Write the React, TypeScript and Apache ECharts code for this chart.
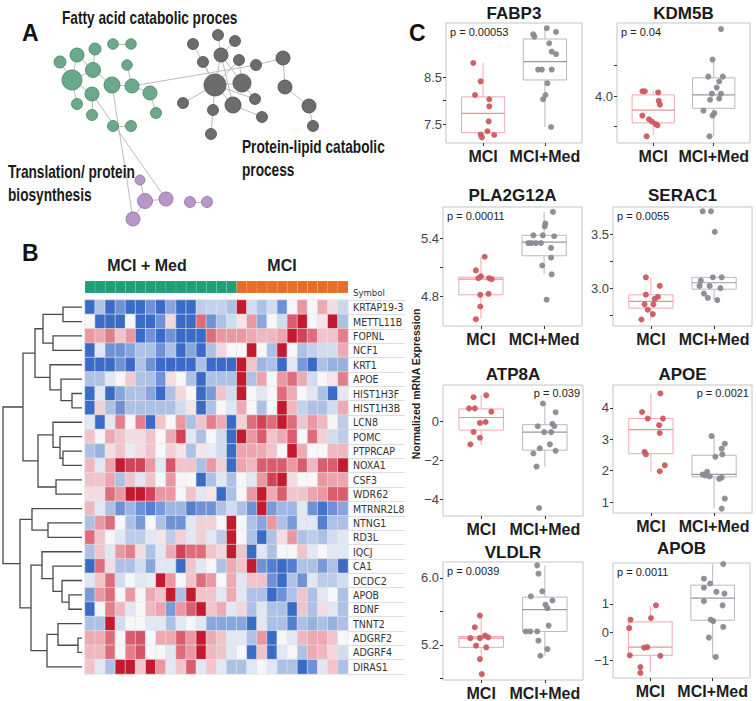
import { useEffect, useRef } from 'react';
import * as echarts from 'echarts';

const NARROW = '"Liberation Sans Narrow", "DejaVu Sans Condensed", "Liberation Sans", sans-serif';
const SANS = '"Liberation Sans", Arial, Helvetica, sans-serif';

// ---------------- Panel A: network (node x, node y, radius) ----------------
const GREEN_NODES = [
  [60, 62, 6], [77, 55, 7], [95, 49, 6], [113, 44, 5.3], [131, 44, 5.3], [72, 80, 10],
  [93, 70, 7.5], [127, 65, 5.3], [112, 85, 8], [132, 86, 7], [150, 93, 7], [92, 94, 7],
  [77, 104, 5.5], [156, 113, 5.5], [92, 115, 5.5], [113, 126, 5.5], [131, 126, 5.5],
];
const GRAY_NODES = [
  [193, 44, 5.5], [218, 35, 5.5], [235, 41, 5.5], [221, 55, 7], [203, 62, 5.5], [239, 60, 5.5],
  [256, 65, 5.5], [283, 58, 7], [215, 85, 11], [242, 83, 9], [285, 87, 7], [183, 103, 5.5],
  [213, 110, 5.5], [233, 105, 8], [255, 99, 5.5], [262, 117, 5.5], [309, 106, 7], [313, 126, 5.5],
  [211, 134, 5.5],
];
const PURPLE_NODES = [
  [140, 180, 5], [145, 201, 7.5], [166, 199, 7], [190, 202, 5.5], [207, 202, 5.5], [133, 219, 7],
];
const EDGES: [string, string][] = [
  ['g5', 'g0'], ['g5', 'g1'], ['g5', 'g6'], ['g5', 'g11'], ['g5', 'g12'], ['g1', 'g6'], ['g2', 'g6'],
  ['g6', 'g8'], ['g8', 'g9'], ['g9', 'g7'], ['g9', 'g10'], ['g10', 'g13'], ['g11', 'g14'], ['g3', 'g4'],
  ['g15', 'g16'], ['g9', 'k6'], ['g11', 'p2'], ['g8', 'p5'],
  ['k8', 'k0'], ['k8', 'k3'], ['k8', 'k4'], ['k8', 'k5'], ['k8', 'k9'], ['k8', 'k11'], ['k8', 'k12'],
  ['k8', 'k13'], ['k8', 'k14'], ['k3', 'k1'], ['k3', 'k2'], ['k3', 'k9'], ['k9', 'k5'], ['k9', 'k14'],
  ['k13', 'k15'], ['k12', 'k18'], ['k6', 'k7'], ['k7', 'k10'], ['k10', 'k16'], ['k16', 'k17'], ['k3', 'k13'],
  ['p0', 'p1'], ['p1', 'p2'], ['p3', 'p4'], ['p1', 'p5'],
];

// ---------------- Panel B: heatmap ----------------
const GENES = [
  'KRTAP19-3', 'METTL11B', 'FOPNL', 'NCF1', 'KRT1', 'APOE', 'HIST1H3F', 'HIST1H3B', 'LCN8', 'POMC',
  'PTPRCAP', 'NOXA1', 'CSF3', 'WDR62', 'MTRNR2L8', 'NTNG1', 'RD3L', 'IQCJ', 'CA1', 'DCDC2', 'APOB',
  'BDNF', 'TNNT2', 'ADGRF2', 'ADGRF4', 'DIRAS1',
];
const SAMPLES = [
  'M1', 'M2', 'M3', 'M4', 'M5', 'M6', 'M7', 'M8', 'M9', 'M10', 'M11', 'M12', 'M13', 'M14', 'M15',
  'C1', 'C2', 'C3', 'C4', 'C5', 'C6', 'C7', 'C8', 'C9', 'C10', 'C11',
];
const SAMPLE_GROUP = [0, 0, 0, 0, 0, 0, 0, 0, 0, 0, 0, 0, 0, 0, 0, 1, 1, 1, 1, 1, 1, 1, 1, 1, 1, 1];
const HEAT_ROWS = [
  [-3, -1, -3, -2, -3, -3, -2, -3, -1.5, -3, -3, -0.8, -0.7, -0.7, -1, 3, -0.5, -1, -0.5, -2, 0, 1.5, 0, 1.2, 0.4, -0.6],
  [0, -3, -3, -3, 0, -3, -3, -2, 0.5, -3, -3, 2, -2, -1, -0.5, 0.3, 1.5, -1.5, 0, -0.5, 2.2, 3, 0, 0.3, 3, -1],
  [1.5, 1.2, 1.8, 0.8, 1.5, -3, -2, -3, -2, -3, -3, -3, 2, 1.5, 1.5, 1.5, 1.2, 1, 1, 1.3, 3, 2.5, 2, 0.8, 0.8, 1.8],
  [-3, -0.3, -2, -2, -1.5, -1, -1, -2, -1, -3, -1.5, -3, -1, 0.5, 0, 0, 3, 0, -1, 3, 0, -1, -0.7, -0.5, -0.5, 1.2],
  [-3, -3, -3, -2, -3, -1, -2, -3, -3, -3, -3, -1, -3, -3, -3, 3, 0.8, -1.2, -1, -3, -0.3, -1.8, -3, -1, -1.3, -1.3],
  [-1, -1, -0.3, 0, 0.7, -1, -1, -2, 0.4, 0, -1, -3, -1, -1, -1, 3, -1, 1.3, 0, 1.5, 2, 1.2, -0.5, 0, 0.3, 1.8],
  [-3, -0.3, -3, -1.5, -1, -1, -1.5, -3, -1, 0.5, 0, -3, -1.8, 0.8, -0.5, 3, 0, -0.3, 0, 2, 1.2, 0, -0.3, -1, -3, -0.3],
  [-3, 0.6, -1, -2, -1, -1, -1, -1, -1, -0.5, 0.3, -3, -1, 0, -0.3, 1.2, 0, -1, 0, 3, 1, -0.7, -1, -1, -0.5, 1.2],
  [-0.3, -3, -0.3, 1.8, 0, 1.8, -3, 0.8, 0, 1.5, -1, 0.8, 1.8, 1.2, -3, 0.6, 2, 2.5, 2, 3, 2, 0.8, 1.5, 1, 0, -0.8],
  [0.8, 0, 1.2, 0.8, 0.4, 0.4, 0.8, 0, 1.2, 2.5, -0.3, -1, 0, -0.5, -3, 3, 1.5, 2.2, 0.8, 1.2, 2.2, 0, 2, 0.6, -0.5, -0.8],
  [-1, -1.3, 0.4, 0.8, -0.2, 0.4, 0.8, 0, 0.6, 0.3, -1, 0.3, -0.2, -0.5, -3, 1.3, 1.3, 1.2, 0.8, 0, 3, 1.2, 0, 0, 1, 1],
  [1, -0.3, 1.3, 3, 2.5, 2.5, 1.5, -0.3, 2.3, 0.8, 0.8, -1, 1.5, 0.6, -3, 1.3, 1, 2.2, 2.2, 2.2, 1.5, 2.2, 1, 2.2, 2.2, 3],
  [0.8, 0.8, 1.3, -1, 0.8, -0.3, 0.8, 0, 1.5, 0, 0, -3, -1, -0.3, -1, 0, -0.3, 1.5, 2.5, 3, 0.4, 0, 0, 1.5, 1.3, 1.3],
  [0.4, 0.4, 2, 1.5, 3, 3, 2.5, 1.5, 1.5, 0, 0.8, -0.3, 0.3, -3, -1, 0, 1.5, 3, 1.2, 2.2, 0.8, 0.8, 1.3, 1.5, 2.2, 2.2],
  [1, -0.3, -1, -2, -1.2, -2, -2.5, -1.8, -1.2, -1.2, -2.5, -2, -2, -1, -0.5, -1, -2, 3, -1.8, -1.2, -1.2, -0.3, -2, -2.8, -2, -1.5],
  [-1, 1.5, 2, 0, -1, -1.8, 0, -1, -2, -2, -0.3, 0.6, 0.6, 0, 3, 0, -1, -1.5, 1.5, -1, -1.8, -0.3, -0.3, -2.5, -1, -1],
  [2, 0.8, 0, -0.3, -0.8, -0.8, -0.3, 0.3, -0.8, 0.6, -0.3, 0.6, -0.3, -0.8, 3, 0, -1, -3, -1, 0.4, 1.5, -1, -0.8, -1, -0.5, -0.3],
  [-1, 0.8, -0.3, 1.5, 1.8, 0.4, -1, -0.3, 1.2, 2.5, 2, 2, 0.8, 0.5, 3, 0.8, -3, -0.3, -1, 0, 0, 0.8, -0.3, 0, -0.3, -0.3],
  [-3, 2, 0.4, -1, -1, -0.5, -1.5, -0.3, -0.3, -3, 0.8, -0.3, 0, -1, 1.2, 0.8, 3, -2, -2.5, -3, -2.5, -1, -1, -1.8, -1, -3],
  [-0.3, 0.8, 2, -0.5, 0, -0.3, -0.2, 3, 1.5, 0, 0.8, 2, 1.5, 0, 1.2, -0.3, 0.8, 0.8, -2, -3, -1, -2, -0.3, -0.8, -0.8, -0.5],
  [-1.8, 1.5, 2, 0, 1.5, 0, 1.2, 0.8, 3, -1, 3, 0.8, 0.8, -0.3, 1.2, -0.3, -1, -1, -3, -2, -1, 0.8, -1, -0.3, 0, -1],
  [-3, 0, 1.8, 1, -0.3, 0, 1, 1.3, -1.8, 1.5, 2.2, 3, 0.8, 1.2, -0.3, 0.5, -1, -0.3, -1, -1, -3, 0.8, -1, 0.4, -0.3, -1],
  [-1, -1, 3, -0.5, 0, 0, -0.3, -0.3, -1, -0.3, 0, -0.3, -1.5, -1.5, -1.5, -1.5, -3, -0.3, -1, -1, -2.5, -1, -1.3, -1, -1.3, -1],
  [1.2, 1.2, 2, 0, 2.2, 2.3, 0, 1.2, 1.2, 2.2, 1.5, 3, 1.2, 0.8, -0.3, -0.3, -1, 1.5, -3, 0, -0.3, 1, 1.2, 1.2, 0.8, 0],
  [1, 1, 2, 0, 1.8, 2.3, 0, 0, -0.3, 2, 1.5, 3, 1, 0.8, -0.3, 0, -3, 0.8, -3, -0.3, 0, -1, 1.2, 1, 0.5, -0.5],
  [0.8, -0.3, -1, 3, 3, 0.8, 3, 1.5, -0.3, 0.8, 2.2, -0.3, 0.8, -0.3, -1, -1, -0.3, 0, -0.3, -1, -1, -3, -2, -0.3, 0.8, -1],
];
// hierarchical clustering of rows: [left id, right id, height]; leaves 0..25, merges 26..
const MERGES = [
  [0, 1, 19], [2, 3, 29], [26, 27, 39], [6, 7, 10], [5, 29, 21], [4, 30, 32], [28, 31, 47],
  [10, 11, 19], [9, 33, 22], [8, 34, 29], [12, 13, 26], [35, 36, 44], [32, 37, 59],
  [15, 16, 34], [14, 39, 50], [20, 21, 13], [19, 41, 20], [18, 42, 29], [17, 43, 40],
  [23, 24, 4], [22, 45, 24], [46, 25, 35], [44, 47, 51], [40, 48, 62], [38, 49, 79],
];

// ---------------- Panel C: box plots ----------------
const GROUPS = ['MCI', 'MCI+Med'];
const FABP3_MCI = [8.8, 8.41, 8.12, 8.03, 7.88, 7.56, 7.35, 7.28, 7.22, 7.27];
const FABP3_MCI_JIT = [-0.16, -0.04, -0.13, 0.1, 0.1, 0.09, 0.07, -0.04, -0.02, 0.18];
const FABP3_MED = [9.41, 9.36, 9.54, 9.46, 9.22, 9.04, 8.99, 8.66, 8.66, 8.66, 8.37, 8.12, 8.03, 7.44];
const FABP3_MED_JIT = [-0.19, -0.17, 0.03, 0.18, 0.07, 0.11, 0.18, -0.11, -0.05, 0.11, 0.04, 0.01, -0.03, 0.1];
const FABP3_BOX = [[7.22, 7.32, 7.73, 8.08, 8.8], [7.44, 8.44, 8.83, 9.31, 9.54]];

const KDM5B_MCI = [4.04, 4.04, 4.03, 3.96, 3.93, 3.84, 3.81, 3.79, 3.77, 3.76, 3.67];
const KDM5B_MCI_JIT = [-0.18, -0.14, 0.08, 0.09, 0.11, -0.18, -0.07, -0.02, 0.04, 0.07, -0.11];
const KDM5B_MED = [4.55, 4.3, 4.16, 4.16, 4.12, 4.07, 4.02, 4.02, 3.97, 3.98, 3.88, 3.86, 3.84, 3.67];
const KDM5B_MED_JIT = [0.12, -0.02, -0.09, 0.15, 0.09, 0.05, -0.03, 0.12, -0.06, 0.09, -0.17, 0.01, -0.02, -0.07];
const KDM5B_BOX = [[3.68, 3.78, 3.885, 4.01, 4.04], [3.67, 3.9, 4.01, 4.15, 4.3]];

const PLA2G12A_MCI = [5.21, 5.07, 5.01, 4.99, 4.99, 4.98, 4.82, 4.83, 4.7, 4.57];
const PLA2G12A_MCI_JIT = [0.06, -0.08, 0, -0.04, 0.13, 0.17, -0.01, 0.12, -0.01, -0.08];
const PLA2G12A_MED = [5.67, 5.55, 5.52, 5.43, 5.43, 5.42, 5.35, 5.35, 5.35, 5.35, 5.3, 5.2, 5.12, 5.03, 4.77];
const PLA2G12A_MED_JIT = [0.14, 0.02, 0.01, -0.17, -0.02, 0.16, -0.25, -0.2, -0.13, -0.05, 0.11, 0.11, -0.03, 0.12, 0.04];
const PLA2G12A_BOX = [[4.57, 4.82, 4.98, 5.0, 5.21], [5.03, 5.22, 5.36, 5.43, 5.67]];

const SERAC1_MCI = [3.1, 3.02, 2.94, 2.92, 2.9, 2.85, 2.85, 2.8, 2.76, 2.71];
const SERAC1_MCI_JIT = [-0.08, 0.14, -0.08, 0.11, 0.06, -0.1, 0.04, -0.05, 0.03, -0.15];
const SERAC1_MED = [3.71, 3.71, 3.52, 3.07, 3.1, 3.1, 3.02, 3.02, 3.0, 2.95, 2.91, 2.89];
const SERAC1_MED_JIT = [-0.18, -0.05, 0.01, -0.21, -0.02, 0.12, -0.23, -0.07, 0.1, -0.16, -0.1, 0.05];
const SERAC1_BOX = [[2.71, 2.815, 2.877, 2.938, 3.1], [2.89, 2.99, 3.05, 3.1, 3.1]];

const ATP8A_MCI = [1.24, 1.34, 0.67, 0.67, 0.5, -0.08, -0.03, -0.54, -0.84, -1.18];
const ATP8A_MCI_JIT = [-0.12, 0.08, -0.19, -0.1, 0.16, -0.02, 0.07, -0.12, -0.02, -0.17];
const ATP8A_MED = [0.92, 0.47, -0.13, -0.25, -0.25, -0.55, -0.55, -1.18, -1.38, -1.51, -1.65, -2.32, -4.45];
const ATP8A_MED_JIT = [-0.03, 0.17, 0.12, 0.15, -0.11, -0.01, 0.1, 0.08, -0.08, 0.17, -0.18, -0.13, -0.09];
const ATP8A_BOX = [[-1.21, -0.45, 0.2, 0.64, 1.34], [-2.32, -1.48, -0.55, -0.17, 0.92]];

const APOE_MCI = [4.46, 3.87, 3.66, 3.66, 3.45, 3.2, 2.6, 2.52, 2.17, 1.98];
const APOE_MCI_JIT = [0.15, -0.14, -0.05, 0.19, 0.13, 0.14, -0.1, -0.08, 0.22, 0.14];
const APOE_MED = [3.1, 2.86, 2.7, 2.44, 2.52, 1.96, 1.88, 1.85, 1.82, 1.78, 1.74, 1.11, 0.79];
const APOE_MED_JIT = [-0.04, 0.17, 0.12, 0.02, 0.13, -0.11, -0.18, -0.14, -0.07, 0.12, 0.08, 0.17, 0.12];
const APOE_BOX = [[1.96, 2.54, 3.31, 3.66, 4.46], [0.79, 1.8, 1.88, 2.49, 3.1]];

const VLDLR_MCI = [5.55, 5.41, 5.28, 5.28, 5.31, 5.29, 5.19, 5.17, 5.03, 4.85];
const VLDLR_MCI_JIT = [-0.02, -0.1, -0.17, -0.02, 0.06, 0.11, -0.08, 0.08, -0.02, 0.01];
const VLDLR_MED = [6.15, 6.05, 5.84, 5.78, 5.73, 5.68, 5.64, 5.43, 5.36, 5.36, 5.36, 5.25, 5.15, 5.07];
const VLDLR_MED_JIT = [-0.12, -0.1, -0.04, -0.22, 0.12, 0.01, 0.04, 0.06, -0.3, -0.23, -0.12, -0.1, 0.04, -0.07];
const VLDLR_BOX = [[5.02, 5.17, 5.28, 5.3, 5.55], [5.07, 5.36, 5.62, 5.77, 6.15]];

const APOB_MCI = [0.95, 0.44, 0.5, 0.14, -0.54, -0.56, -0.83, -0.85, -1.25, -1.46];
const APOB_MCI_JIT = [0.09, -0.32, 0.01, -0.34, -0.05, -0.1, -0.33, 0.16, -0.16, -0.16];
const APOB_MED = [2.42, 1.9, 1.73, 1.58, 1.43, 1.37, 1.1, 0.95, 0.44, 0.39, 0.18, -0.2, -0.89];
const APOB_MED_JIT = [0.17, -0.14, -0.04, -0.14, 0.06, 0.19, -0.14, 0.16, -0.03, 0.01, 0.17, -0.06, 0.05];
const APOB_BOX = [[-1.43, -0.83, -0.54, 0.36, 0.92], [-0.92, 0.42, 1.21, 1.67, 2.44]];

const PANELS = [
  { gene: 'FABP3', p: 'p = 0.00053', pRight: false, mci: FABP3_MCI, mciJit: FABP3_MCI_JIT, med: FABP3_MED, medJit: FABP3_MED_JIT, box: FABP3_BOX, min: 7.1, max: 9.65, ticks: [7.5, 8, 8.5], labels: [7.5, 8.5], dec: 1 },
  { gene: 'KDM5B', p: 'p = 0.04', pRight: false, mci: KDM5B_MCI, mciJit: KDM5B_MCI_JIT, med: KDM5B_MED, medJit: KDM5B_MED_JIT, box: KDM5B_BOX, min: 3.615, max: 4.6, ticks: [3.75, 4, 4.25], labels: [4], dec: 1 },
  { gene: 'PLA2G12A', p: 'p = 0.00011', pRight: false, mci: PLA2G12A_MCI, mciJit: PLA2G12A_MCI_JIT, med: PLA2G12A_MED, medJit: PLA2G12A_MED_JIT, box: PLA2G12A_BOX, min: 4.5, max: 5.72, ticks: [4.8, 5.1, 5.4], labels: [4.8, 5.4], dec: 1 },
  { gene: 'SERAC1', p: 'p = 0.0055', pRight: false, mci: SERAC1_MCI, mciJit: SERAC1_MCI_JIT, med: SERAC1_MED, medJit: SERAC1_MED_JIT, box: SERAC1_BOX, min: 2.65, max: 3.75, ticks: [2.75, 3, 3.25, 3.5], labels: [3, 3.5], dec: 1 },
  { gene: 'ATP8A', p: 'p = 0.039', pRight: true, mci: ATP8A_MCI, mciJit: ATP8A_MCI_JIT, med: ATP8A_MED, medJit: ATP8A_MED_JIT, box: ATP8A_BOX, min: -4.86, max: 1.87, ticks: [-4, -2, 0], labels: [-4, -2, 0], dec: 0 },
  { gene: 'APOE', p: 'p = 0.0021', pRight: true, mci: APOE_MCI, mciJit: APOE_MCI_JIT, med: APOE_MED, medJit: APOE_MED_JIT, box: APOE_BOX, min: 0.65, max: 4.73, ticks: [1, 2, 3, 4], labels: [1, 2, 3, 4], dec: 0 },
  { gene: 'VLDLR', p: 'p = 0.0039', pRight: false, mci: VLDLR_MCI, mciJit: VLDLR_MCI_JIT, med: VLDLR_MED, medJit: VLDLR_MED_JIT, box: VLDLR_BOX, min: 4.78, max: 6.19, ticks: [4.8, 5.2, 5.6, 6], labels: [5.2, 6], dec: 1 },
  { gene: 'APOB', p: 'p = 0.0011', pRight: false, mci: APOB_MCI, mciJit: APOB_MCI_JIT, med: APOB_MED, medJit: APOB_MED_JIT, box: APOB_BOX, min: -1.64, max: 2.46, ticks: [-1, 0, 1], labels: [-1, 0, 1], dec: 0 },
];
// layout of the eight plot panels: left, top, width, height, title y
const PANEL_BOXES = [
  [446, 23, 136, 120, 13], [617, 23, 133, 120, 13],
  [443, 207, 139, 119, 195], [613, 207, 139, 119, 195],
  [443, 385, 140, 131, 374], [613, 385, 139, 128, 374],
  [443, 562, 140, 118, 552], [613, 563, 137, 115, 548],
];

function buildOption() {
  const grids: any[] = [];
  const xAxes: any[] = [];
  const yAxes: any[] = [];
  const series: any[] = [];
  const graphic: any[] = [];
  const addGrid = (g: any, x: any, y: any) => {
    grids.push(g);
    const gi = grids.length - 1;
    xAxes.push({ gridIndex: gi, ...x });
    yAxes.push({ gridIndex: gi, ...y });
    return gi;
  };
  const text = (x: number, y: number, t: string, o: any = {}) => {
    graphic.push({
      type: 'text', x, y, rotation: o.rot || 0, scaleX: o.sx || 1, silent: true, z: 100,
      style: {
        text: t, fill: o.fill || '#222', fontSize: o.size || 12, fontFamily: o.family || SANS,
        fontWeight: o.weight || 'normal', align: o.align || 'left', verticalAlign: 'middle',
        textAlign: o.align || 'left', textVerticalAlign: 'middle',
      },
    });
  };

  // ---- Panel A
  const gA = addGrid(
    { left: 0, top: 0, width: 756, height: 701, show: false },
    { type: 'value', min: 0, max: 756, show: false },
    { type: 'value', min: 0, max: 701, inverse: true, show: false },
  );
  const nodeSets = [
    { prefix: 'g', nodes: GREEN_NODES, color: '#6ba98b', border: '#4a8367' },
    { prefix: 'k', nodes: GRAY_NODES, color: '#6c6c6c', border: '#4e4e4e' },
    { prefix: 'p', nodes: PURPLE_NODES, color: '#b797c9', border: '#8c6e9f' },
  ];
  const nodes: any[] = [];
  nodeSets.forEach((s) => s.nodes.forEach((n, i) => nodes.push({
    name: s.prefix + i, value: [n[0], n[1]], symbolSize: n[2] * 2,
    itemStyle: { color: s.color, borderColor: s.border, borderWidth: 0.8 },
  })));
  series.push({
    type: 'graph', coordinateSystem: 'cartesian2d', xAxisIndex: gA, yAxisIndex: gA, layout: 'none',
    symbol: 'circle', data: nodes, links: EDGES.map(([a, b]) => ({ source: a, target: b })),
    lineStyle: { color: '#bcbcbc', width: 1, opacity: 1 }, label: { show: false },
    emphasis: { disabled: true }, silent: true,
  });

  // ---- Panel B: dendrogram
  const gD = addGrid(
    { left: 3, top: 300, width: 79, height: 374, show: false },
    { type: 'value', min: 0, max: 79, inverse: true, show: false },
    { type: 'value', min: -0.5, max: GENES.length - 0.5, inverse: true, show: false },
  );
  const pos: number[] = GENES.map((_, i) => i);
  const hgt: number[] = GENES.map(() => 0);
  const segs = MERGES.map(([a, b, h]) => {
    const item = [hgt[a], pos[a], hgt[b], pos[b], h];
    pos.push((pos[a] + pos[b]) / 2);
    hgt.push(h);
    return item;
  });
  series.push({
    type: 'custom', xAxisIndex: gD, yAxisIndex: gD, data: segs, silent: true,
    encode: { x: [0, 2, 4], y: [1, 3] },
    renderItem: (_p: any, api: any) => {
      const hA = api.value(0), yA = api.value(1), hB = api.value(2), yB = api.value(3), h = api.value(4);
      return {
        type: 'polyline',
        shape: { points: [api.coord([hA, yA]), api.coord([h, yA]), api.coord([h, yB]), api.coord([hB, yB])] },
        style: { stroke: '#4a4a4a', lineWidth: 1.3, fill: 'none' },
      };
    },
  });

  // ---- heatmap
  const gH = addGrid(
    { left: 85, top: 300, width: 263, height: 374, show: false },
    { type: 'category', data: SAMPLES, show: false },
    { type: 'category', data: GENES, inverse: true, show: false },
  );
  const heatData: any[] = [];
  HEAT_ROWS.forEach((row, r) => row.forEach((v, c) => heatData.push([c, r, v])));
  const heatIdx = series.length;
  series.push({
    type: 'heatmap', xAxisIndex: gH, yAxisIndex: gH, data: heatData, silent: true,
    itemStyle: { borderColor: '#e4e4e4', borderWidth: 0.6 }, emphasis: { disabled: true },
  });

  // ---- annotation bar
  const gBar = addGrid(
    { left: 85, top: 281, width: 263, height: 12, show: false },
    { type: 'category', data: SAMPLES, show: false },
    { type: 'category', data: ['group'], show: false },
  );
  series.push({
    type: 'custom', xAxisIndex: gBar, yAxisIndex: gBar, silent: true,
    data: SAMPLE_GROUP.map((g, c) => [c, 0, g]),
    encode: { x: 0, y: 1 },
    renderItem: (_p: any, api: any) => {
      const pt = api.coord([api.value(0), 0]);
      const sz = api.size([1, 1]);
      return {
        type: 'rect', shape: { x: pt[0] - sz[0] / 2, y: pt[1] - sz[1] / 2, width: sz[0], height: sz[1] },
        style: { fill: api.value(2) === 0 ? '#1f9e77' : '#e46f28', stroke: 'rgba(255,255,255,0.18)', lineWidth: 0.6 },
      };
    },
  });

  // ---- row labels
  addGrid(
    { left: 348, top: 300, width: 57, height: 374, show: false },
    { type: 'value', min: 0, max: 1, show: false },
    {
      type: 'category', data: GENES, inverse: true, position: 'left',
      axisLine: { show: false, onZero: false }, axisTick: { show: false },
      axisLabel: { inside: true, interval: 0, margin: 5, fontSize: 10.5, fontFamily: NARROW, color: '#333' },
      splitLine: { show: true, interval: 0, lineStyle: { color: '#d6d6d6', width: 0.8 } },
    },
  );

  // ---- Panel C
  const fmt = (v: number, dec: number) => v.toFixed(dec).replace('-', '\u2212');
  PANELS.forEach((pnl, i) => {
    const [left, top, width, height, titleY] = PANEL_BOXES[i];
    const gi = addGrid(
      { left, top, width, height, show: true, borderColor: '#c4c4c4', borderWidth: 1, backgroundColor: '#ffffff' },
      {
        type: 'value', min: -0.6, max: 1.6, position: 'bottom',
        axisLine: { show: false, onZero: false }, splitLine: { show: false },
        axisTick: { show: true, inside: false, customValues: [0, 1], length: 3, lineStyle: { color: '#333' } },
        axisLabel: {
          customValues: [0, 1], margin: 5, fontSize: 16, fontWeight: 'bold', color: '#1e1e1e', fontFamily: SANS,
          formatter: (v: number) => GROUPS[Math.round(v)],
        },
      },
      {
        type: 'value', min: pnl.min, max: pnl.max, position: 'left',
        axisLine: { show: false, onZero: false }, splitLine: { show: false },
        axisTick: { show: true, inside: false, customValues: pnl.ticks, length: 3, lineStyle: { color: '#333' } },
        axisLabel: {
          customValues: pnl.labels, margin: 4, fontSize: 13, color: '#444', fontFamily: SANS, hideOverlap: false,
          formatter: (v: number) => fmt(v, pnl.dec),
        },
      },
    );
    series.push({
      type: 'custom', xAxisIndex: gi, yAxisIndex: gi, silent: true,
      data: pnl.box.map((b, c) => [c, ...b]),
      encode: { x: 0, y: [1, 2, 3, 4, 5] },
      renderItem: (_p: any, api: any) => {
        const cat = api.value(0);
        const mn = api.value(1), q1 = api.value(2), md = api.value(3), q3 = api.value(4), mx = api.value(5);
        const w = 0.7;
        const cx = api.coord([cat, md])[0];
        const l = api.coord([cat - w / 2, md])[0];
        const r = api.coord([cat + w / 2, md])[0];
        const yMx = api.coord([cat, mx])[1], yQ3 = api.coord([cat, q3])[1], yMd = api.coord([cat, md])[1];
        const yQ1 = api.coord([cat, q1])[1], yMn = api.coord([cat, mn])[1];
        const col = cat === 0 ? '#eeaab0' : '#b8b8c0';
        const medCol = cat === 0 ? '#e5939a' : '#9a9aa2';
        return {
          type: 'group', children: [
            { type: 'line', shape: { x1: cx, y1: yMx, x2: cx, y2: yQ3 }, style: { stroke: col, lineWidth: 1 } },
            { type: 'line', shape: { x1: cx, y1: yQ1, x2: cx, y2: yMn }, style: { stroke: col, lineWidth: 1 } },
            { type: 'rect', shape: { x: l, y: yQ3, width: r - l, height: yQ1 - yQ3 }, style: { fill: '#ffffff', stroke: col, lineWidth: 1 } },
            { type: 'line', shape: { x1: l, y1: yMd, x2: r, y2: yMd }, style: { stroke: medCol, lineWidth: 1.2 } },
          ],
        };
      },
    });
    series.push({
      type: 'scatter', xAxisIndex: gi, yAxisIndex: gi, symbolSize: 6, silent: true,
      itemStyle: { color: '#cd5961', opacity: 0.95 },
      data: pnl.mci.map((v, k) => [0 + pnl.mciJit[k], v]),
    });
    series.push({
      type: 'scatter', xAxisIndex: gi, yAxisIndex: gi, symbolSize: 6, silent: true,
      itemStyle: { color: '#8a8a92', opacity: 0.95 },
      data: pnl.med.map((v, k) => [1 + pnl.medJit[k], v]),
    });
    text(left + width / 2, titleY, pnl.gene, { size: 17, weight: 'bold', align: 'center', fill: '#1a1a1a' });
    if (pnl.pRight) text(left + width - 3, top + 8, pnl.p, { size: 11, align: 'right' });
    else text(left + 4, top + 9, pnl.p, { size: 11 });
  });

  // ---- texts
  text(22, 33, 'A', { size: 23, weight: 'bold', fill: '#111' });
  text(22, 253, 'B', { size: 23, weight: 'bold', fill: '#111' });
  text(409, 33, 'C', { size: 23, weight: 'bold', fill: '#111' });
  const lab = { size: 18, sx: 0.76, weight: 'bold', fill: '#1a1a1a' };
  text(62, 18, 'Fatty acid catabolic proces', lab);
  text(242, 147, 'Protein-lipid catabolic', lab);
  text(242, 170, 'process', lab);
  text(8, 172, 'Translation/ protein', lab);
  text(8, 195, 'biosynthesis', lab);
  text(147, 265, 'MCI + Med', { size: 16, weight: 'bold', align: 'center' });
  text(282, 265, 'MCI', { size: 16, weight: 'bold', align: 'center' });
  text(353, 292, 'Symbol', { size: 9.5, family: NARROW, fill: '#333' });
  text(416, 384, 'Normalized mRNA Expression', { size: 10.5, weight: 'bold', align: 'center', rot: Math.PI / 2 });

  return {
    animation: false,
    backgroundColor: '#ffffff',
    grid: grids,
    xAxis: xAxes,
    yAxis: yAxes,
    visualMap: [{
      type: 'continuous', show: false, min: -3, max: 3, seriesIndex: heatIdx,
      inRange: { color: ['#3a6bc6', '#88a6dd', '#f7f7f9', '#eb97a2', '#c41a2f'] },
    }],
    series,
    graphic,
  };
}

export default function App() {
  const ref = useRef<HTMLDivElement>(null);
  useEffect(() => {
    document.body.style.margin = '0';
    const chart = echarts.init(ref.current as HTMLDivElement, null, { renderer: 'svg' });
    chart.setOption(buildOption() as any);
    return () => chart.dispose();
  }, []);
  return <div ref={ref} style={{ width: 756, height: 701 }} />;
}
